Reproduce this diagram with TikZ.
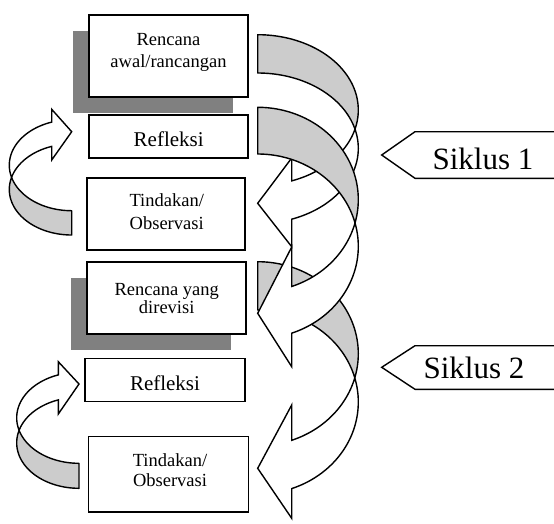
\documentclass[tikz,border=0pt]{standalone}
\usepackage{fontspec}
\setmainfont{Liberation Serif}
\definecolor{backgray}{RGB}{204,204,204}
\definecolor{shadowgray}{RGB}{128,128,128}
% right-side curved arrow: L, T, th, hR, w, x1, yUpperCorner, yLowerCorner, tipY
\newcommand\myRArrow[9]{%
  \pgfmathsetmacro\myCyA{#2+#4}%
  \pgfmathsetmacro\myCyB{#2+#3+#4}%
  \pgfmathsetmacro\myTc{asin(#3/(2*#4))}%
  \pgfmathsetmacro\myTn{-\myTc}%
  \pgfmathsetmacro\myTa{acos((#6-#1)/#5)}%
  \filldraw[backface] plot[domain=-90:\myTc, samples=70, variable=\q] ({#1+#5*cos(\q)},{\myCyA+#4*sin(\q)})
    -- plot[domain=\myTn:-90, samples=70, variable=\q] ({#1+#5*cos(\q)},{\myCyB+#4*sin(\q)}) -- cycle;
  \filldraw[frontface] plot[domain=\myTc:\myTa, samples=70, variable=\q] ({#1+#5*cos(\q)},{\myCyA+#4*sin(\q)})
    -- (#6,#7) -- (#1,#9) -- (#6,#8)
    -- plot[domain=\myTa:\myTn, samples=70, variable=\q] ({#1+#5*cos(\q)},{\myCyB+#4*sin(\q)}) -- cycle;
}
% left-side curved arrow: R, B, th, hR, w, x1, yUpperCorner, yLowerCorner, tipY
\newcommand\myLArrow[9]{%
  \pgfmathsetmacro\myCyA{#2-#4}%
  \pgfmathsetmacro\myCyB{#2-#3-#4}%
  \pgfmathsetmacro\myTc{asin(#3/(2*#4))}%
  \pgfmathsetmacro\myTb{180+\myTc}%
  \pgfmathsetmacro\myTd{180-\myTc}%
  \pgfmathsetmacro\myTa{360-acos((#6-#1)/#5)}%
  \filldraw[backface] plot[domain=90:\myTb, samples=70, variable=\q] ({#1+#5*cos(\q)},{\myCyA+#4*sin(\q)})
    -- plot[domain=\myTd:90, samples=70, variable=\q] ({#1+#5*cos(\q)},{\myCyB+#4*sin(\q)}) -- cycle;
  \filldraw[frontface] plot[domain=\myTb:\myTa, samples=70, variable=\q] ({#1+#5*cos(\q)},{\myCyA+#4*sin(\q)})
    -- (#6,#8) -- (#1,#9) -- (#6,#7)
    -- plot[domain=\myTa:\myTd, samples=70, variable=\q] ({#1+#5*cos(\q)},{\myCyB+#4*sin(\q)}) -- cycle;
}
\begin{document}
\begin{tikzpicture}[x=1pt,y=-1pt,
  box/.style={draw=black, line width=1.4pt, fill=white, inner sep=0pt},
  shadowbox/.style={fill=shadowgray, inner sep=0pt},
  backface/.style={fill=backgray, draw=black, line width=1.4pt, line join=round},
  frontface/.style={fill=white, draw=black, line width=1.4pt, line join=miter},
  siklusbox/.style={draw=black, line width=1.4pt, fill=white},
  txt/.style={anchor=base, inner sep=0pt, font=\fontsize{18.5}{22}\selectfont},
  bigtxt/.style={anchor=base, inner sep=0pt, font=\fontsize{21}{24}\selectfont},
  sikltxt/.style={anchor=base, inner sep=0pt, font=\fontsize{31}{36}\selectfont}]
\useasboundingbox (0,0) rectangle (554,523);
\clip (0,0) rectangle (554,523);
\fill[white] (0,0) rectangle (554,523);

% shadows
\node[shadowbox, minimum width=160pt, minimum height=82pt] (s1) at (153,72) {};
\node[shadowbox, minimum width=160pt, minimum height=72pt] (s4) at (151,314) {};

% boxes
\node[box, minimum width=159pt, minimum height=82pt] (b1) at (168.5,56) {};
\node[box, minimum width=159pt, minimum height=43pt] (b2) at (168.5,136.5) {};
\node[box, minimum width=158pt, minimum height=72pt] (b3) at (166,214) {};
\node[box, minimum width=159pt, minimum height=72pt] (b4) at (166.5,298) {};
\node[box, minimum width=160pt, minimum height=43.4pt] (b5) at (165,380) {};
\node[box, minimum width=160pt, minimum height=75.3pt] (b6) at (168.3,474.3) {};

% texts
\node[txt] (t1a) at (168.5,45) {Rencana};
\node[txt] (t1b) at (168.5,67) {awal/rancangan};
\node[bigtxt] (t2) at (168.7,146.7) {Refleksi};
\node[txt] (t3a) at (166.7,206.7) {Tindakan/};
\node[txt] (t3b) at (166.7,229.3) {Observasi};
\node[txt] (t4a) at (166.7,295) {Rencana yang};
\node[txt] (t4b) at (166.7,313.3) {direvisi};
\node[bigtxt] (t5) at (165,390) {Refleksi};
\node[txt] (t6a) at (170,466.7) {Tindakan/};
\node[txt] (t6b) at (170,486.7) {Observasi};

% left curved arrows
\myLArrow{71.7}{235}{24.3}{45.5}{62.4}{51.7}{109.3}{160}{131.7}
\myLArrow{79}{488.3}{25}{45.5}{62.3}{58.3}{361.7}{414}{384}

% right curved arrows
\myRArrow{257.7}{34.7}{38.3}{75.3}{100.6}{291.7}{158}{246.7}{203.3}
\myRArrow{257.7}{261.7}{48.3}{92}{100.6}{291.7}{405}{518.3}{468.3}
\myRArrow{257.7}{107.3}{46.7}{92.3}{100.6}{291.7}{247}{366.7}{313.3}

% Siklus labels
\draw[siklusbox] (381.7,155) -- (415,131.7) -- (570,131.7) -- (570,178.3) -- (415,178.3) -- cycle;
\node[sikltxt] (k1) at (483,169) {Siklus 1};
\draw[siklusbox] (381.7,367.3) -- (415,345.7) -- (570,345.7) -- (570,389.3) -- (415,389.3) -- cycle;
\node[sikltxt] (k2) at (474,378.3) {Siklus 2};
\end{tikzpicture}
\end{document}
